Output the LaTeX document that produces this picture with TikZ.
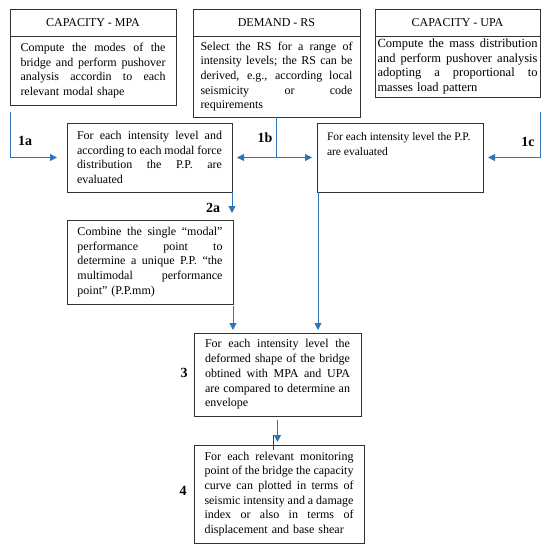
\documentclass[tikz,border=0pt]{standalone}
\usepackage{fontspec}
\setmainfont{Liberation Serif}
\usetikzlibrary{arrows.meta}
\definecolor{flowblue}{RGB}{46,117,182}
\newcommand{\linew}{145pt}
\newcommand{\fl}[1]{\leavevmode\hbox to \linew{\spaceskip=0.25em plus 3em minus 0.06em\relax #1}}
\tikzset{
	box/.style={draw=black!80, line width=0.9pt, inner sep=0pt, outer sep=0pt, anchor=north west, align=left, font=\fontsize{12}{14.7}\selectfont},
	tw/.style={text width=#1, execute at begin node={\renewcommand{\linew}{#1}}},
	headbox/.style={box, align=center, minimum height=27pt, font=\fontsize{12}{14}\selectfont},
	flow/.style={draw=flowblue, line width=1pt, -{Triangle[length=7pt,width=7pt]}},
	steplbl/.style={font=\fontsize{14}{16}\selectfont\bfseries, inner sep=0pt}
}
\begin{document}
\begin{tikzpicture}[x=1pt,y=-1pt]
		\useasboundingbox (0,0) rectangle (550,549);
		\node [headbox, minimum width=166pt] (mpaT) at (10,9) {CAPACITY - MPA};
		\node [box, minimum width=166pt, minimum height=69pt, tw=145pt] (mpa) at (10,36) {\fl{Compute the modes of the}\\ \fl{bridge and perform pushover}\\ \fl{analysis accordin to each}\\ relevant modal shape};
		\node [headbox, minimum width=167pt] (rsT) at (193,9) {DEMAND - RS};
		\node [box, minimum width=167pt, minimum height=81pt, tw=152pt] (rs) at (193,36) {\fl{Select the RS for a range of}\\ \fl{intensity levels; the RS can be}\\ \fl{derived, e.g., according local}\\ \fl{seismicity or code}\\ requirements};
		\node [headbox, minimum width=165pt] (upaT) at (375,9) {CAPACITY - UPA};
		\node [box, minimum width=165pt, minimum height=61pt, tw=160pt, font=\fontsize{12.5}{14.7}\selectfont] (upa) at (375,36) {\fl{Compute the mass distribution}\\ \fl{and perform pushover analysis}\\ \fl{adopting a proportional to}\\ masses load pattern};
		\node [box, minimum width=165pt, minimum height=69pt, tw=145pt] (pp) at (67,123) {\fl{For each intensity level and}\\ \fl{according to each modal force}\\ \fl{distribution the P.P. are}\\ evaluated};
		\node [box, minimum width=166pt, minimum height=69pt] (ppU) at (317,123) {\begin{minipage}[t][50pt][t]{146pt}\fontsize{11.5}{15.5}\selectfont\raggedright For each intensity level the P.P.\\ are evaluated\end{minipage}};
		\node [box, minimum width=166pt, minimum height=84pt, tw=145pt] (mm) at (67,220) {\fl{Combine the single “modal”}\\ \fl{performance point to}\\ \fl{determine a unique P.P. “the}\\ \fl{multimodal performance}\\ point” (P.P.mm)};
		\node [box, minimum width=167pt, minimum height=83pt, tw=145pt] (env) at (194,333) {\fl{For each intensity level the}\\ \fl{deformed shape of the bridge}\\ \fl{obtined with MPA and UPA}\\ \fl{are compared to determine an}\\ envelope};
		\node [box, minimum width=170pt, minimum height=98pt, tw=149pt] (curve) at (194,445) {\fl{For each relevant monitoring}\\ \fl{point of the bridge the capacity}\\ \fl{curve can plotted in terms of}\\ \fl{seismic intensity and a damage}\\ \fl{index or also in terms of}\\ displacement and base shear};
		\coordinate (ppR) at ([xshift=5pt]pp.east);
		\coordinate (ppUL) at ([xshift=-5pt]ppU.west);
		\coordinate (uS) at ([xshift=1pt]ppU.south west);
		\draw [flow] ([yshift=-7pt]mpa.south west) |- ([xshift=-10pt]pp.west);
		\draw [flow] (rs.south) |- (ppR);
		\draw [flow] (rs.south) |- (ppUL);
		\draw [flow] ([yshift=-15pt]upa.south east) |- ([xshift=5pt]ppU.east);
		\draw [flow, shorten >=7pt] (pp.south east) -- (pp.south east |- mm.north);
		\draw [flow, shorten >=3pt, shorten <=2pt] (mm.south east) -- (mm.south east |- env.north);
		\draw [flow, shorten >=3pt] (uS) -- (uS |- env.north);
		\draw [flow, shorten >=3pt, shorten <=4pt] (env.south) -- (env.south |- curve.north);
		\draw [black!75, line width=0.6pt] (273,435) -- (273,450);
		\node [steplbl] (l1a) at (25,141) {1a};
		\node [steplbl] (l1b) at (265,138) {1b};
		\node [steplbl] (l1c) at (528,142) {1c};
		\node [steplbl] (l2a) at (213,208) {2a};
		\node [steplbl] (l3) at (184,373) {3};
		\node [steplbl] (l4) at (183,491) {4};
	\end{tikzpicture}
\end{document}
